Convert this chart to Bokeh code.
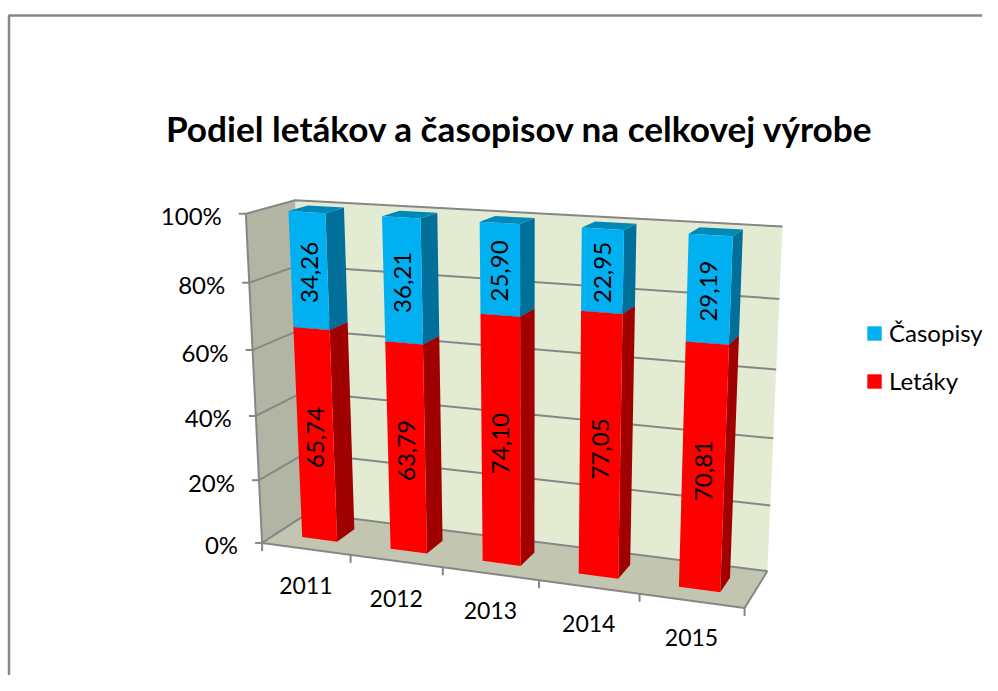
import numpy as np
from bokeh.plotting import figure
from bokeh.models import Range1d, Legend, LegendItem
from bokeh.core.properties import value
from bokeh.embed import file_html
from bokeh.resources import INLINE

# ---- data
years = ["2011", "2012", "2013", "2014", "2015"]
letaky = [65.74, 63.79, 74.10, 77.05, 70.81]
casopisy = [34.26, 36.21, 25.90, 22.95, 29.19]
y_ticks = [0, 20, 40, 60, 80, 100]
y_labels = ["0%", "20%", "40%", "60%", "80%", "100%"]
title = "Podiel letákov a časopisov na celkovej výrobe"

FONT = "Lato"
GREY = "#868686"
W, H = 982, 675

# ---- camera: the plot box's visible corners on the page -> 3×4 projection
# (u = category axis 0..1, t = value axis 0..1, d = depth 0 front .. 1 back)
box = [((0, 0, 1), (307, 512)), ((1, 0, 1), (767, 571)), ((1, 1, 1), (782, 226)),
       ((0, 1, 1), (295, 200)), ((0, 0, 0), (262, 543)), ((1, 0, 0), (744, 607)),
       ((0, 1, 0), (245, 213))]
A = []
for (a, b, c), (x, y) in box:
    A.append([a, b, c, 1, 0, 0, 0, 0, -x*a, -x*b, -x*c, -x])
    A.append([0, 0, 0, 0, a, b, c, 1, -y*a, -y*b, -y*c, -y])
P = np.linalg.svd(np.array(A, float))[2][-1].reshape(3, 4)


def proj(u, pct, d):
    h = P @ np.array([u, pct / 100.0, d, 1.0])
    return float(h[0] / h[2]), float(h[1] / h[2])


def poly(points):
    pts = [proj(*q) for q in points]
    return [q[0] for q in pts], [q[1] for q in pts]


p = figure(width=W, height=H, output_backend="svg", toolbar_location=None,
           x_range=Range1d(0, W), y_range=Range1d(H, 0),
           min_border=0, outline_line_color=None, background_fill_color="white",
           border_fill_color="white")
p.xaxis.visible = False
p.yaxis.visible = False
p.grid.visible = False

# chart frame
p.line([8.5, 8.5, W], [H, 15, 15], line_color=GREY, line_width=2.5)

# walls and floor
for pts, col in [([(0, 0, 1), (1, 0, 1), (1, 100, 1), (0, 100, 1)], "#E3EBD2"),
                 ([(0, 0, 0), (0, 0, 1), (0, 100, 1), (0, 100, 0)], "#B3B5A4"),
                 ([(0, 0, 0), (1, 0, 0), (1, 0, 1), (0, 0, 1)], "#C2C6B1")]:
    xs, ys = poly(pts)
    p.patch(xs, ys, fill_color=col, line_color=None)

# gridlines on side and back wall
gx, gy = [], []
for t in y_ticks:
    xs, ys = poly([(0, t, 0), (0, t, 1), (1, t, 1)])
    gx.append(xs)
    gy.append(ys)
p.multi_line(gx, gy, line_color=GREY, line_width=2)

# axes lines and ticks
ax_x, ax_y = [], []
for pts in ([(0, 0, 0), (0, 100, 0)], [(0, 0, 0), (1, 0, 0), (1, 0, 1)]):
    xs, ys = poly(pts)
    ax_x.append(xs)
    ax_y.append(ys)
for t in y_ticks:
    x0, y0 = proj(0, t, 0)
    ax_x.append([x0 - 7, x0])
    ax_y.append([y0, y0])
for i in range(len(years) + 1):
    x0, y0 = proj(i / len(years), 0, 0)
    ax_x.append([x0, x0])
    ax_y.append([y0, y0 + 8])
p.multi_line(ax_x, ax_y, line_color=GREY, line_width=2)

# bars
BW, D0, D1 = 0.4, 0.3, 0.7
n = len(years)
styles = {"L": ("#FF0000", "#A00000", "#C00000"), "C": ("#00B0F0", "#006F9A", "#0088B8")}
front_r = {}
lab_x, lab_y, lab_t = [], [], []
for i in range(n):
    u0 = (i + 0.5 - BW / 2) / n
    u1 = (i + 0.5 + BW / 2) / n
    base = 0.0
    for key, val in (("L", letaky[i]), ("C", casopisy[i])):
        top = base + val
        front, side, lid = styles[key]
        xs, ys = poly([(u1, base, D0), (u1, base, D1), (u1, top, D1), (u1, top, D0)])
        p.patch(xs, ys, fill_color=side, line_color=None)
        xs, ys = poly([(u0, top, D0), (u1, top, D0), (u1, top, D1), (u0, top, D1)])
        p.patch(xs, ys, fill_color=lid, line_color=None)
        xs, ys = poly([(u0, base, D0), (u1, base, D0), (u1, top, D0), (u0, top, D0)])
        front_r[key] = p.patch(xs, ys, fill_color=front, line_color=None)
        cx, cy = proj((u0 + u1) / 2, (base + top) / 2, D0)
        lab_x.append(cx)
        lab_y.append(cy + 1.5)
        lab_t.append(f"{val:.2f}".replace(".", ","))
        base = top

p.text(lab_x, lab_y, text=lab_t, angle=np.pi / 2, text_align="center", text_baseline="middle",
       text_font=value(FONT), text_font_size="24px", text_color="black")

# value axis labels
vx, vy = zip(*[proj(0, t, 0) for t in y_ticks])
p.text([x - 24 for x in vx], [y + 2 for y in vy], text=y_labels, text_align="right",
       text_baseline="middle", text_font=value(FONT), text_font_size="24px", text_color="black")

# category labels
cx, cy = zip(*[proj((i + 0.5) / n, 0, 0) for i in range(n)])
p.text(list(cx), [y + 37 for y in cy], text=years, text_align="center", text_baseline="middle",
       text_font=value(FONT), text_font_size="23px", text_color="black")

# title
p.text([519.5], [127.5], text=[title], text_align="center", text_baseline="middle",
       text_font=value(FONT), text_font_size="35.2px", text_font_style="bold", text_color="black")

legend = Legend(items=[LegendItem(label="Časopisy", renderers=[front_r["C"]]),
                       LegendItem(label="Letáky", renderers=[front_r["L"]])],
                location=(865, H - 395), orientation="vertical",
                background_fill_alpha=0, border_line_alpha=0, margin=0, padding=0,
                glyph_width=18, glyph_height=18, label_standoff=6, spacing=19,
                label_text_font=FONT, label_text_font_size="24px", label_text_color="black")
p.add_layout(legend, "center")

open("out.html", "w").write(file_html(p, INLINE))
